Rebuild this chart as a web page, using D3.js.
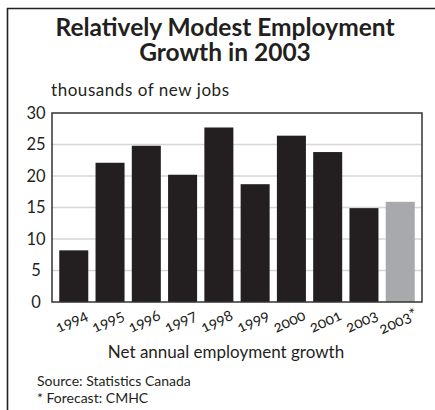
<!DOCTYPE html>
<html>
<head>
<meta charset="utf-8">
<script src="https://cdn.jsdelivr.net/npm/d3@7"></script>
<style>
  body { margin: 0; background: #fff; }
  text { font-family: Lato, "Noto Sans", sans-serif; fill: #231f20; }
</style>
</head>
<body>
<div id="chart-area"></div>
<script>
// Datos del gráfico
const years = ["1994", "1995", "1996", "1997", "1998", "1999", "2000", "2001", "2003", "2003*"];
const jobs = [8.2, 22.1, 24.8, 20.2, 27.7, 18.7, 26.4, 23.8, 14.9, 15.9];
const forecast = [false, false, false, false, false, false, false, false, false, true];
const yTicks = [0, 5, 10, 15, 20, 25, 30];

const width = 435;
const height = 410;
const plot = { left: 52, right: 422, top: 113, bottom: 302 };

const svg = d3.select("#chart-area")
    .append("svg")
    .attr("width", width)
    .attr("height", height);

// marco exterior (solo arriba e izquierda)
svg.append("path")
    .attr("d", "M7.5,410 L7.5,8.5 L435,8.5")
    .attr("fill", "none")
    .attr("stroke", "#231f20")
    .attr("stroke-width", 1.6);

// titulo
const title = svg.append("text")
    .attr("text-anchor", "middle")
    .attr("font-size", 24.5)
    .attr("font-weight", "bold");
title.append("tspan").attr("x", 225).attr("y", 36).text("Relatively Modest Employment");
title.append("tspan").attr("x", 225).attr("y", 61).text("Growth in 2003");

svg.append("text")
    .attr("x", 51)
    .attr("y", 96)
    .attr("font-size", 17)
    .attr("textLength", 178)
    .text("thousands of new jobs");

const x = d3.scaleBand()
    .domain(years)
    .range([plot.left, plot.right])
    .paddingInner(0.2)
    .paddingOuter(0.2);

const y = d3.scaleLinear()
    .domain([0, 30])
    .range([plot.bottom, plot.top]);

// lineas de la grilla
svg.append("g")
    .selectAll("line")
    .data(yTicks.filter(t => t > 0 && t < 30))
    .enter()
    .append("line")
    .attr("x1", plot.left)
    .attr("x2", plot.right)
    .attr("y1", d => y(d))
    .attr("y2", d => y(d))
    .attr("stroke", "#d6d6d6")
    .attr("stroke-width", 1.5);

// etiquetas del eje y
svg.append("g")
    .selectAll("text")
    .data(yTicks)
    .enter()
    .append("text")
    .attr("x", 36)
    .attr("y", d => y(d))
    .attr("dy", "0.36em")
    .attr("text-anchor", "middle")
    .attr("font-size", 16.5)
    .text(d => d);

// barras
svg.append("g")
    .selectAll("rect")
    .data(jobs)
    .enter()
    .append("rect")
    .attr("x", (d, i) => x(years[i]))
    .attr("y", d => y(d))
    .attr("width", x.bandwidth())
    .attr("height", d => y(0) - y(d))
    .attr("fill", (d, i) => forecast[i] ? "#a7a9ac" : "#231f20");

// borde del area del grafico
svg.append("rect")
    .attr("x", plot.left)
    .attr("y", plot.top)
    .attr("width", plot.right - plot.left)
    .attr("height", plot.bottom - plot.top)
    .attr("fill", "none")
    .attr("stroke", "#333")
    .attr("stroke-width", 1.5);

// etiquetas del eje x, giradas
svg.append("g")
    .selectAll("text")
    .data(years)
    .enter()
    .append("text")
    .attr("transform", d => `translate(${x(d) + x.bandwidth() / 2},${326}) rotate(-25)`)
    .attr("text-anchor", "middle")
    .attr("font-size", 15.5)
    .style("font-feature-settings", "'onum'")
    .text(d => d);

svg.append("text")
    .attr("x", 226)
    .attr("y", 358)
    .attr("text-anchor", "middle")
    .attr("font-size", 17)
    .text("Net annual employment growth");

svg.append("text")
    .attr("x", 37)
    .attr("y", 386)
    .attr("font-size", 14)
    .text("Source: Statistics Canada");

svg.append("text")
    .attr("x", 37)
    .attr("y", 403)
    .attr("font-size", 14)
    .text("* Forecast: CMHC");
</script>
</body>
</html>
